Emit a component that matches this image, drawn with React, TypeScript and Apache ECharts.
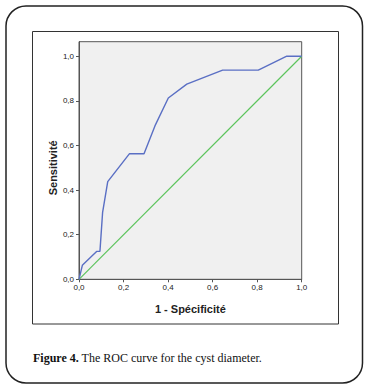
import React, { useEffect, useRef } from "react";
import * as echarts from "echarts";

const fpr = [0, 0.015, 0.079, 0.094, 0.106, 0.129, 0.226, 0.292, 0.341, 0.401, 0.484, 0.645, 0.805, 0.933, 1.0];
const tpr = [0, 0.0625, 0.125, 0.125, 0.3, 0.4375, 0.5625, 0.5625, 0.6875, 0.8125, 0.875, 0.9375, 0.9375, 1.0, 1.0];
const refX = [0, 1];
const refY = [0, 1];
const tickValues = [0, 0.2, 0.4, 0.6, 0.8, 1.0];
const xName = "1 - Spécificité";
const yName = "Sensitivité";
const caption = "The ROC curve for the cyst diameter.";
const captionBold = "Figure 4.";

const fmt = (v: number) => v.toFixed(1).replace(".", ",");

export default function App() {
  const ref = useRef<HTMLDivElement>(null);
  useEffect(() => {
    if (!ref.current) return;
    const chart = echarts.init(ref.current, undefined, { renderer: "svg" });
    const left = 79, top = 41.7, right = 301.7, bottom = 279.3;
    const yTop = 56.3;
    chart.setOption({
      animation: false,
      backgroundColor: "#ffffff",
      grid: {
        left,
        top,
        width: right - left,
        height: bottom - top,
        show: true,
        backgroundColor: "#f0f0f0",
        borderColor: "#555",
        borderWidth: 1,
      },
      xAxis: {
        type: "value",
        min: 0,
        max: 1,
        interval: 0.2,
        splitLine: { show: false },
        axisLine: { show: true, lineStyle: { color: "#555", width: 1 } },
        axisTick: { show: true, length: 3, lineStyle: { color: "#555" } },
        axisLabel: {
          formatter: (v: number) => fmt(v),
          fontFamily: "Liberation Sans",
          fontSize: 8,
          color: "#222",
          margin: 4,
        },
      },
      yAxis: {
        type: "value",
        min: 0,
        max: 1.065,
        splitLine: { show: false },
        axisLine: { show: true, lineStyle: { color: "#555", width: 1 } },
        axisTick: { show: true, length: 3, customValues: tickValues, lineStyle: { color: "#555" } },
        axisLabel: {
          customValues: tickValues,
          formatter: (v: number) => fmt(v),
          fontFamily: "Liberation Sans",
          fontSize: 8,
          color: "#222",
          margin: 5,
        },
      },
      series: [
        {
          type: "line",
          data: refX.map((x, i) => [x, refY[i]]),
          symbol: "none",
          lineStyle: { color: "#5cc45c", width: 1.2 },
          z: 2,
        },
        {
          type: "line",
          data: fpr.map((x, i) => [x, tpr[i]]),
          symbol: "none",
          lineStyle: { color: "#5a6fc4", width: 1.4 },
          z: 3,
        },
      ],
      graphic: [
        {
          type: "rect",
          shape: { x: 6, y: 6, width: 356.5, height: 377, r: 20 },
          style: { fill: "none", stroke: "#222", lineWidth: 1.5 },
          silent: true,
        },
        {
          type: "rect",
          shape: { x: 32.5, y: 31.5, width: 306, height: 292.5 },
          style: { fill: "none", stroke: "#333", lineWidth: 1 },
          silent: true,
        },
        {
          type: "text",
          x: (left + right) / 2,
          y: 309,
          style: {
            text: xName,
            fontFamily: "Liberation Sans",
            fontWeight: "bold",
            fontSize: 11,
            fill: "#222",
            align: "center",
            verticalAlign: "middle",
          },
        },
        {
          type: "text",
          x: 52.7,
          y: (yTop + bottom) / 2,
          rotation: Math.PI / 2,
          style: {
            text: yName,
            fontFamily: "Liberation Sans",
            fontWeight: "bold",
            fontSize: 11,
            fill: "#222",
            align: "center",
            verticalAlign: "middle",
          },
        },
        {
          type: "text",
          x: 33,
          y: 358,
          style: {
            text: `{b|${captionBold}} ${caption}`,
            rich: {
              b: { fontFamily: "Liberation Serif", fontWeight: "bold", fontSize: 12, fill: "#111" },
            },
            fontFamily: "Liberation Serif",
            fontSize: 12,
            fill: "#111",
            align: "left",
            verticalAlign: "middle",
          },
        },
      ],
    });
    return () => chart.dispose();
  }, []);
  return (
    <div
      ref={ref}
      style={{ position: "fixed", left: 0, top: 0, width: 373, height: 392, background: "#fff" }}
    />
  );
}
